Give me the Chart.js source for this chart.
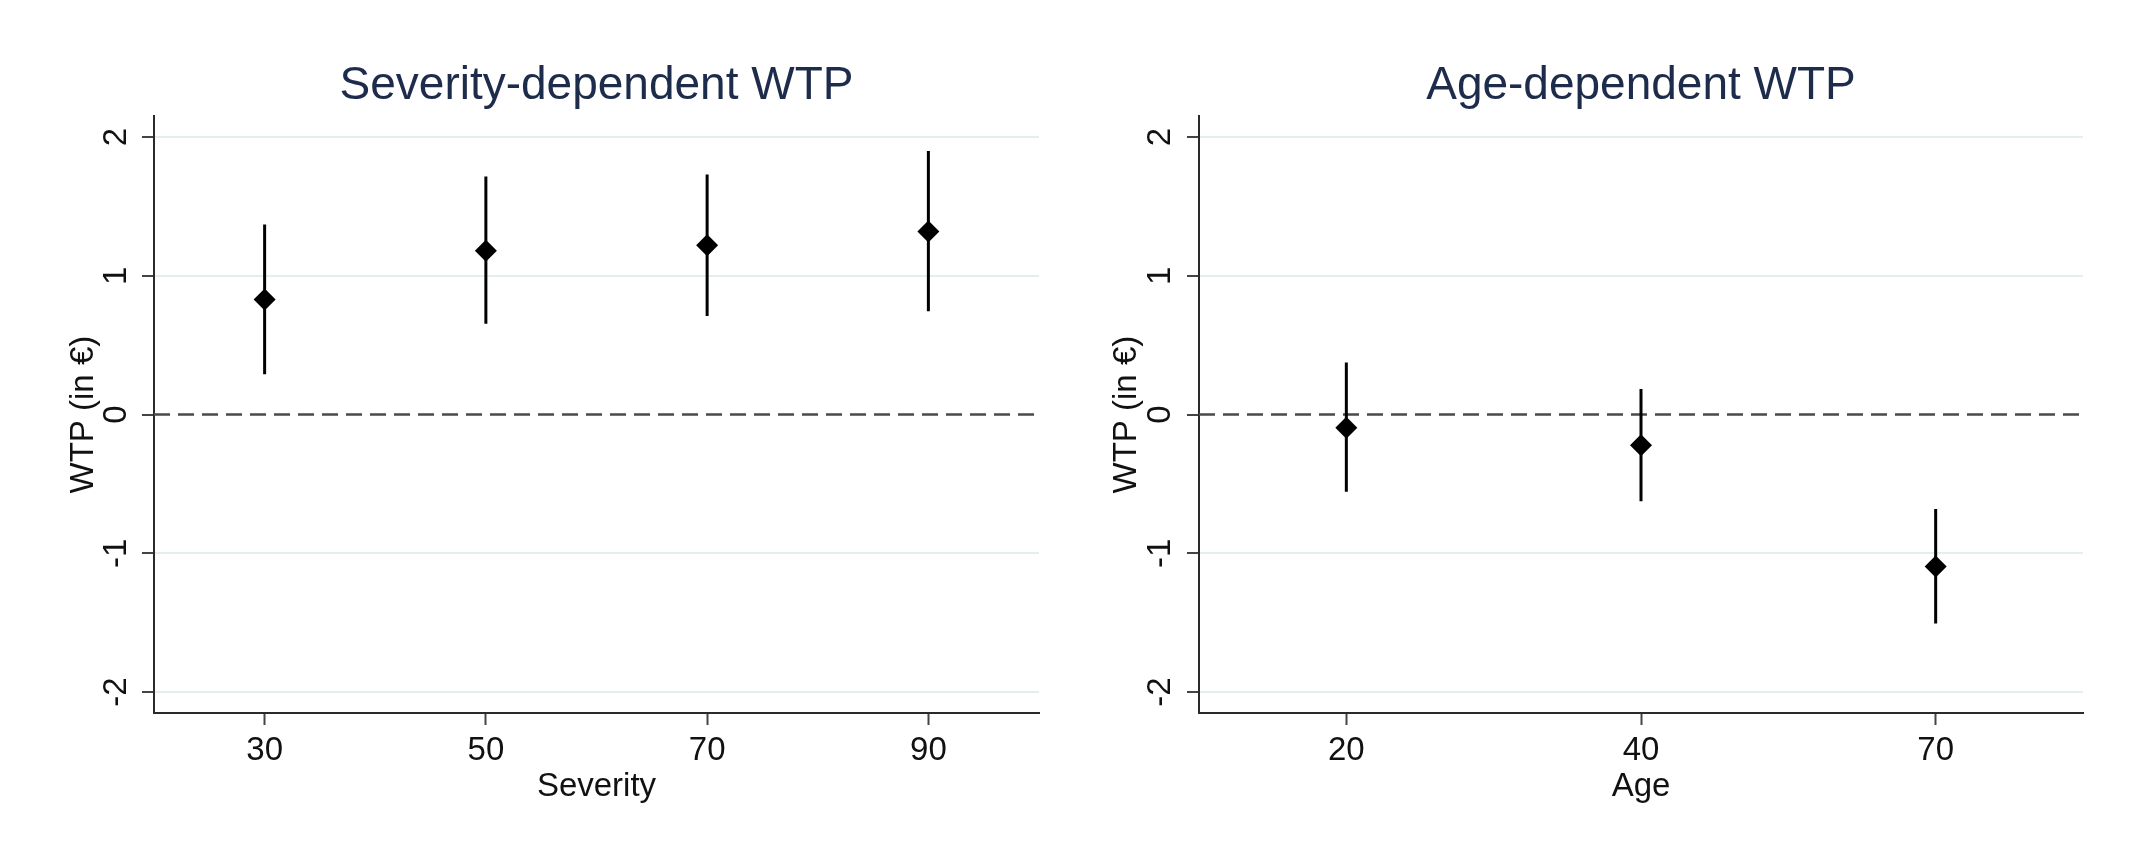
<!DOCTYPE html>
<html>
<head>
<meta charset="utf-8">
<script src="https://cdn.jsdelivr.net/npm/chart.js@4.4.1/dist/chart.umd.min.js"></script>
<style>
  html, body { margin: 0; padding: 0; background: #ffffff; }
  body { width: 2134px; height: 855px; position: relative; overflow: hidden; }
  canvas { position: absolute; top: 0; }
  #c1 { left: 0; }
  #c2 { left: 1067px; }
</style>
</head>
<body>
<canvas id="c1" width="1067" height="855"></canvas>
<canvas id="c2" width="1067" height="855"></canvas>
<script>
// ---- Data ----
const severityCategories = ['30', '50', '70', '90'];
const severityEstimate   = [0.83, 1.18, 1.22, 1.32];
const severityLower      = [0.29, 0.655, 0.71, 0.745];
const severityUpper      = [1.37, 1.715, 1.73, 1.90];

const ageCategories = ['20', '40', '70'];
const ageEstimate   = [-0.095, -0.22, -1.095];
const ageLower      = [-0.555, -0.625, -1.505];
const ageUpper      = [0.375, 0.185, -0.68];

const yTickValues = [-2, -1, 0, 1, 2];
const yTickLabels = ['-2', '-1', '0', '1', '2'];
const yMin = -2.15;
const yMax = 2.15;

const titles = ['Severity-dependent WTP', 'Age-dependent WTP'];
const xTitles = ['Severity', 'Age'];
const yTitle = 'WTP (in €)';

// ---- Styling ----
const FONT = "'Liberation Sans', Arial, sans-serif";
const TITLE_COLOR = '#1e2c4c';
const AXIS_COLOR = '#2a2a2a';
const TICK_COLOR = '#444444';
const GRID_COLOR = '#e4eef0';

const zeroLinePlugin = {
  id: 'zeroLine',
  beforeDatasetsDraw(chart) {
    const y = chart.scales.y.getPixelForValue(0);
    const area = chart.chartArea;
    const ctx = chart.ctx;
    ctx.save();
    ctx.strokeStyle = '#4a4a4a';
    ctx.lineWidth = 2.5;
    ctx.setLineDash([16, 8]);
    ctx.beginPath();
    ctx.moveTo(area.left, y);
    ctx.lineTo(area.right, y);
    ctx.stroke();
    ctx.restore();
  }
};

function errorBarData(cats, lo, hi) {
  const out = [];
  cats.forEach((c, i) => {
    out.push({ x: c, y: lo[i] });
    out.push({ x: c, y: hi[i] });
    out.push({ x: c, y: null });
  });
  return out;
}

function makeChart(id, cats, est, lo, hi, title, xTitle, yWidth, yTitlePad, rightPad, yTickPad) {
  const ctx = document.getElementById(id).getContext('2d');
  return new Chart(ctx, {
    type: 'line',
    data: {
      labels: cats,
      datasets: [
        {
          label: 'estimate',
          data: cats.map((c, i) => ({ x: c, y: est[i] })),
          showLine: false,
          pointStyle: 'rectRot',
          pointRadius: 11,
          pointHoverRadius: 11,
          pointBackgroundColor: '#000000',
          pointBorderColor: '#000000',
          pointBorderWidth: 0
        },
        {
          label: 'ci',
          data: errorBarData(cats, lo, hi),
          borderColor: '#000000',
          borderWidth: 3,
          pointRadius: 0,
          pointHoverRadius: 0,
          spanGaps: false,
          tension: 0,
          fill: false
        }
      ]
    },
    options: {
      responsive: false,
      animation: false,
      events: [],
      layout: { padding: { left: 0, right: rightPad, top: 0, bottom: 0 } },
      plugins: {
        legend: { display: false },
        tooltip: { enabled: false },
        title: {
          display: true,
          text: title,
          fullSize: false,
          color: TITLE_COLOR,
          font: { family: FONT, size: 46, weight: 'normal', lineHeight: 1.2 },
          padding: { top: 59, bottom: 2 }
        }
      },
      scales: {
        x: {
          type: 'category',
          offset: true,
          afterFit(scale) { scale.height = 142; },
          grid: {
            display: true,
            drawOnChartArea: false,
            drawTicks: true,
            tickLength: 12,
            tickColor: TICK_COLOR,
            tickWidth: 2,
            offset: false
          },
          border: { display: true, color: AXIS_COLOR, width: 2 },
          ticks: {
            color: '#111111',
            font: { family: FONT, size: 33, lineHeight: 1.2 },
            padding: 6,
            maxRotation: 0,
            minRotation: 0
          },
          title: {
            display: true,
            text: xTitle,
            color: '#111111',
            font: { family: FONT, size: 33, lineHeight: 1.2 },
            padding: { top: 0, bottom: 48 }
          }
        },
        y: {
          type: 'linear',
          min: yMin,
          max: yMax,
          afterFit(scale) { scale.width = yWidth; },
          afterBuildTicks(scale) { scale.ticks = yTickValues.map(v => ({ value: v })); },
          grid: {
            display: true,
            drawOnChartArea: true,
            drawTicks: true,
            tickLength: 12,
            tickColor: TICK_COLOR,
            tickWidth: 2,
            lineWidth: 2,
            color: (c) => (c.tick && c.tick.value === 0) ? 'rgba(0,0,0,0)' : GRID_COLOR
          },
          border: { display: true, color: AXIS_COLOR, width: 2 },
          ticks: {
            color: '#111111',
            font: { family: FONT, size: 33, lineHeight: 1.2 },
            padding: yTickPad,
            minRotation: 90,
            maxRotation: 90,
            crossAlign: 'center',
            callback: (v) => {
              const i = yTickValues.indexOf(v);
              return i >= 0 ? yTickLabels[i] : '';
            }
          },
          title: {
            display: true,
            text: yTitle,
            color: '#111111',
            font: { family: FONT, size: 33, lineHeight: 1.2 },
            padding: { top: yTitlePad, bottom: 0 }
          }
        }
      }
    },
    plugins: [zeroLinePlugin]
  });
}

makeChart('c1', severityCategories, severityEstimate, severityLower, severityUpper,
          titles[0], xTitles[0], 154, 64, 28, 10);
makeChart('c2', ageCategories, ageEstimate, ageLower, ageUpper,
          titles[1], xTitles[1], 132, 40, 51, 11);
</script>
</body>
</html>
